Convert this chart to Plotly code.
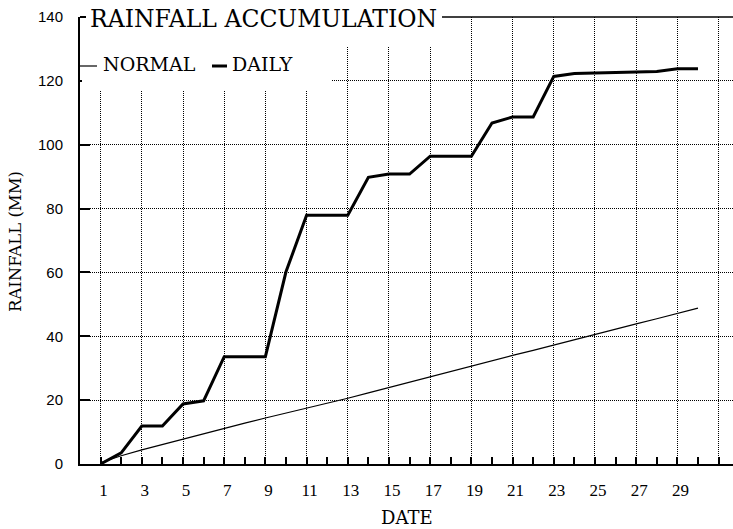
import plotly.graph_objects as go

# ---- data ----
days = list(range(1, 31))
daily_total = [0, 3.5, 11.9, 11.9, 18.8, 19.8, 33.6, 33.6, 33.6, 60.2,
               77.9, 77.9, 77.9, 89.8, 90.8, 90.8, 96.4, 96.4, 96.4, 106.8,
               108.7, 108.7, 121.4, 122.3, 122.5, 122.6, 122.8, 122.9, 123.8, 123.8]
normal_total = [0.4, 2.6, 4.4, 6.1, 7.9, 9.6, 11.2, 12.8, 14.4, 15.9,
                17.4, 19.0, 20.6, 22.3, 24.0, 25.6, 27.3, 29.0, 30.6, 32.3,
                34.0, 35.6, 37.3, 38.9, 40.6, 42.2, 43.9, 45.5, 47.2, 48.8]
x_tick_vals = list(range(1, 32, 2))
x_tick_text = [str(v) for v in range(1, 30, 2)] + [""]
x_minor_vals = list(range(2, 32, 2))
y_tick_vals = list(range(0, 141, 20))

title_text = "RAINFALL ACCUMULATION"
x_title = "DATE"
y_title = "RAINFALL (MM)"
legend_names = ["NORMAL", "DAILY"]

# ---- page geometry ----
W, H = 733, 529
L, R, T, B = 80, 733, 17, 464   # plot area in window pixels
def px(x):
    return (x - L) / (R - L)
def py(y):
    return (B - y) / (B - T)

serif = "DejaVu Serif"

fig = go.Figure()
fig.add_trace(go.Scatter(x=days, y=normal_total, mode="lines", name=legend_names[0],
                         line=dict(color="black", width=1.2), showlegend=False))
fig.add_trace(go.Scatter(x=days, y=daily_total, mode="lines", name=legend_names[1],
                         line=dict(color="black", width=3), showlegend=False))

grid_dash = "1px,1px"
fig.update_layout(
    width=W, height=H,
    margin=dict(l=L, r=W - R, t=T, b=H - B),
    paper_bgcolor="white", plot_bgcolor="white",
    xaxis=dict(range=[0, 31.7], tickmode="array", tickvals=x_tick_vals, ticktext=x_tick_text,
               ticks="inside", ticklen=7, tickwidth=1.5, tickcolor="black",
               showline=True, linewidth=2, linecolor="black",
               showgrid=True, gridcolor="black", gridwidth=1, griddash=grid_dash,
               zeroline=False, automargin=False,
               minor=dict(tickmode="array", tickvals=x_minor_vals, ticks="inside",
                          ticklen=7, tickwidth=1.5, tickcolor="black", showgrid=False),
               tickfont=dict(family="Liberation Serif", size=17, color="black"),
               ticklabelshift=3, ticklabelstandoff=10),
    yaxis=dict(range=[0, 140], tickmode="array", tickvals=y_tick_vals,
               ticks="inside", ticklen=10, tickwidth=1.5, tickcolor="black",
               showline=True, linewidth=2, linecolor="black",
               showgrid=True, gridcolor="black", gridwidth=1, griddash=grid_dash,
               zeroline=False, automargin=False,
               tickfont=dict(family="Liberation Sans", size=15, color="black"),
               ticklabelstandoff=12),
)

shapes = [
    # white area behind title
    dict(type="rect", xref="paper", yref="paper", x0=px(82), x1=px(442), y0=py(47), y1=1.02,
         fillcolor="white", line=dict(width=0), layer="above"),
    # white area behind legend
    dict(type="rect", xref="paper", yref="paper", x0=px(82), x1=px(332), y0=py(90), y1=py(46),
         fillcolor="white", line=dict(width=0), layer="above"),
    # title rule
    dict(type="line", xref="paper", yref="paper", x0=px(442), x1=1, y0=1, y1=1,
         line=dict(color="black", width=1.5), layer="above"),
    # axis hook at top
    dict(type="line", xref="paper", yref="paper", x0=0, x1=px(86), y0=1, y1=1,
         line=dict(color="black", width=2), layer="above"),
    # legend samples
    dict(type="line", xref="paper", yref="paper", x0=px(80), x1=px(97), y0=py(66), y1=py(66),
         line=dict(color="black", width=1.2), layer="above"),
    dict(type="line", xref="paper", yref="paper", x0=px(212), x1=px(227), y0=py(66), y1=py(66),
         line=dict(color="black", width=3), layer="above"),
]
fig.update_layout(shapes=shapes)

annotations = [
    dict(text=title_text, xref="paper", yref="paper", x=px(88), y=py(18.5), xanchor="left",
         yanchor="middle", showarrow=False, font=dict(family=serif, size=23.5, color="black")),
    dict(text=legend_names[0], xref="paper", yref="paper", x=px(101), y=py(64), xanchor="left",
         yanchor="middle", showarrow=False, font=dict(family=serif, size=19, color="black")),
    dict(text=legend_names[1], xref="paper", yref="paper", x=px(230), y=py(64), xanchor="left",
         yanchor="middle", showarrow=False, font=dict(family=serif, size=19, color="black")),
    dict(text=x_title, xref="paper", yref="paper", x=0.5, y=py(517), xanchor="center",
         yanchor="middle", showarrow=False, font=dict(family=serif, size=18, color="black")),
    dict(text=y_title, xref="paper", yref="paper", x=px(15), y=py(242), xanchor="center",
         yanchor="middle", textangle=-90, showarrow=False,
         font=dict(family=serif, size=16.5, color="black")),
]
fig.update_layout(annotations=annotations)

# remove the default 8px page margin so the figure fills the window exactly
fig.write_html("out.html", config={"displayModeBar": False},
               post_script="document.body.style.margin='0';")
